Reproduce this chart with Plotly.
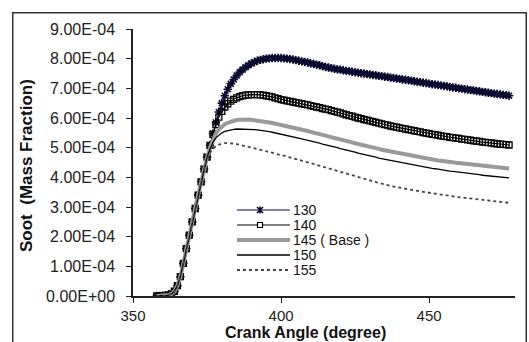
import plotly.graph_objects as go

# Crank angle (degree)
angle = [
    358, 359, 360, 361, 362, 363, 364, 365, 366, 367, 368, 369, 370, 371, 372, 373, 374, 375, 376, 377,
    378, 379, 380, 381, 382, 383, 384, 385, 386, 387, 388, 389, 390, 391, 392, 393, 394, 395, 396, 397,
    398, 399, 400, 401, 402, 403, 404, 405, 406, 407, 408, 409, 410, 411, 412, 413, 414, 415, 416, 417,
    418, 419, 420, 421, 422, 423, 424, 425, 426, 427, 428, 429, 430, 431, 432, 433, 434, 435, 436, 437,
    438, 439, 440, 441, 442, 443, 444, 445, 446, 447, 448, 449, 450, 451, 452, 453, 454, 455, 456, 457,
    458, 459, 460, 461, 462, 463, 464, 465, 466, 467, 468, 469, 470, 471, 472, 473, 474, 475, 476, 477,
]

# Soot mass fraction, in units of 1E-04
s130 = [
    0.00, 0.00, 0.01, 0.02, 0.03, 0.07, 0.16, 0.35, 0.65, 1.10, 1.60, 2.05, 2.50, 2.95, 3.40, 3.85, 4.28, 4.68,
    5.08, 5.48, 5.85, 6.20, 6.50, 6.75, 6.97, 7.15, 7.30, 7.43,
    7.54, 7.63, 7.71, 7.78, 7.84, 7.89, 7.93, 7.96, 7.98, 8.00,
    8.01, 8.02, 8.02, 8.02, 8.02, 8.01, 8.00, 7.99, 7.97, 7.95,
    7.93, 7.91, 7.89, 7.87, 7.84, 7.82, 7.80, 7.78, 7.75, 7.72,
    7.70, 7.68, 7.66, 7.64, 7.63, 7.61, 7.59, 7.58, 7.56, 7.54,
    7.53, 7.51, 7.50, 7.48, 7.47, 7.45, 7.44, 7.42, 7.41, 7.39,
    7.38, 7.36, 7.35, 7.33, 7.32, 7.30, 7.29, 7.27, 7.26, 7.24,
    7.22, 7.21, 7.19, 7.18, 7.16, 7.14, 7.13, 7.11, 7.10, 7.08,
    7.07, 7.05, 7.03, 7.02, 7.00, 6.99, 6.97, 6.96, 6.94, 6.93,
    6.91, 6.90, 6.88, 6.87, 6.85, 6.84, 6.82, 6.81, 6.80, 6.78,
    6.77, 6.75,
]
s140 = [
    0.00, 0.00, 0.01, 0.02, 0.03, 0.07, 0.16, 0.35, 0.65, 1.10, 1.60, 2.05, 2.50, 2.95, 3.40, 3.85, 4.28, 4.68,
    5.08, 5.45, 5.78, 6.03, 6.22, 6.37, 6.48, 6.57, 6.63, 6.68,
    6.72, 6.75, 6.77, 6.78, 6.79, 6.79, 6.79, 6.78, 6.77, 6.75,
    6.73, 6.71, 6.68, 6.65, 6.62, 6.60, 6.58, 6.56, 6.54, 6.52,
    6.50, 6.48, 6.46, 6.44, 6.42, 6.39, 6.37, 6.35, 6.32, 6.30,
    6.28, 6.25, 6.22, 6.20, 6.17, 6.14, 6.11, 6.08, 6.06, 6.03,
    6.00, 5.98, 5.95, 5.93, 5.90, 5.88, 5.85, 5.83, 5.80, 5.78,
    5.76, 5.73, 5.71, 5.69, 5.67, 5.65, 5.63, 5.61, 5.59, 5.57,
    5.55, 5.53, 5.51, 5.49, 5.47, 5.45, 5.44, 5.42, 5.40, 5.38,
    5.37, 5.35, 5.34, 5.32, 5.31, 5.29, 5.28, 5.26, 5.25, 5.23,
    5.22, 5.21, 5.19, 5.18, 5.17, 5.16, 5.14, 5.13, 5.12, 5.11,
    5.10, 5.09,
]
s145 = [
    0.00, 0.00, 0.01, 0.02, 0.03, 0.07, 0.16, 0.35, 0.65, 1.10, 1.60, 2.05, 2.50, 2.95, 3.40, 3.85, 4.28, 4.68,
    5.00, 5.28, 5.48, 5.62, 5.72, 5.79, 5.84, 5.88, 5.91, 5.93,
    5.94, 5.95, 5.95, 5.95, 5.94, 5.93, 5.92, 5.91, 5.89, 5.87,
    5.85, 5.83, 5.81, 5.79, 5.77, 5.75, 5.72, 5.70, 5.68, 5.66,
    5.63, 5.61, 5.58, 5.56, 5.53, 5.51, 5.48, 5.46, 5.43, 5.40,
    5.38, 5.35, 5.33, 5.30, 5.28, 5.25, 5.23, 5.20, 5.18, 5.15,
    5.13, 5.10, 5.08, 5.05, 5.03, 5.00, 4.98, 4.96, 4.93, 4.91,
    4.89, 4.86, 4.84, 4.82, 4.80, 4.78, 4.76, 4.74, 4.72, 4.70,
    4.68, 4.67, 4.65, 4.63, 4.62, 4.60, 4.59, 4.57, 4.56, 4.54,
    4.53, 4.52, 4.50, 4.49, 4.48, 4.47, 4.46, 4.44, 4.43, 4.42,
    4.41, 4.40, 4.39, 4.38, 4.37, 4.36, 4.35, 4.34, 4.33, 4.32,
    4.31, 4.30,
]
s150 = [
    0.00, 0.00, 0.01, 0.02, 0.03, 0.07, 0.16, 0.35, 0.65, 1.10, 1.60, 2.05, 2.50, 2.95, 3.40, 3.85, 4.28, 4.68,
    4.95, 5.18, 5.33, 5.43, 5.50, 5.55, 5.58, 5.60, 5.62, 5.63,
    5.63, 5.63, 5.63, 5.63, 5.62, 5.61, 5.60, 5.59, 5.57, 5.56,
    5.54, 5.52, 5.50, 5.48, 5.46, 5.44, 5.42, 5.39, 5.37, 5.35,
    5.32, 5.30, 5.27, 5.25, 5.22, 5.20, 5.17, 5.15, 5.12, 5.10,
    5.07, 5.05, 5.02, 5.00, 4.97, 4.95, 4.92, 4.90, 4.87, 4.85,
    4.82, 4.80, 4.77, 4.75, 4.72, 4.70, 4.68, 4.65, 4.63, 4.61,
    4.58, 4.56, 4.54, 4.52, 4.50, 4.48, 4.46, 4.44, 4.42, 4.40,
    4.38, 4.37, 4.35, 4.33, 4.32, 4.30, 4.29, 4.27, 4.26, 4.24,
    4.23, 4.21, 4.20, 4.19, 4.17, 4.16, 4.15, 4.13, 4.12, 4.11,
    4.10, 4.09, 4.07, 4.06, 4.05, 4.04, 4.03, 4.02, 4.01, 4.00,
    3.99, 3.98,
]
s155 = [
    0.00, 0.00, 0.01, 0.02, 0.03, 0.07, 0.16, 0.35, 0.65, 1.10, 1.60, 2.05, 2.50, 2.95, 3.40, 3.85, 4.28,
    4.60, 4.82, 4.96, 5.05, 5.10, 5.13, 5.15, 5.15, 5.15, 5.14,
    5.12, 5.10, 5.08, 5.05, 5.03, 5.00, 4.98, 4.95, 4.93, 4.90,
    4.88, 4.85, 4.83, 4.80, 4.78, 4.75, 4.72, 4.70, 4.67, 4.65,
    4.62, 4.59, 4.56, 4.54, 4.51, 4.48, 4.45, 4.42, 4.40, 4.37,
    4.34, 4.32, 4.29, 4.26, 4.23, 4.20, 4.17, 4.14, 4.11, 4.08,
    4.05, 4.02, 3.99, 3.96, 3.93, 3.90, 3.87, 3.84, 3.81, 3.79,
    3.76, 3.74, 3.71, 3.69, 3.67, 3.65, 3.63, 3.61, 3.59, 3.57,
    3.56, 3.54, 3.52, 3.51, 3.49, 3.48, 3.46, 3.45, 3.43, 3.42,
    3.40, 3.39, 3.37, 3.36, 3.35, 3.33, 3.32, 3.31, 3.29, 3.28,
    3.27, 3.25, 3.24, 3.23, 3.22, 3.21, 3.20, 3.19, 3.18, 3.17,
    3.16, 3.15, 3.14,
]

series_names = ["130", "140", "145 ( Base )", "150", "155"]
y_tick_vals = [0, 1, 2, 3, 4, 5, 6, 7, 8, 9]
y_tick_text = ["0.00E+00", "1.00E-04", "2.00E-04", "3.00E-04", "4.00E-04",
               "5.00E-04", "6.00E-04", "7.00E-04", "8.00E-04", "9.00E-04"]
x_tick_vals = [350, 400, 450]

W, H = 529, 342
ML, MR, MT, MB = 133, 14, 29, 46
PW, PH = W - ML - MR, H - MT - MB


def px(x):
    return (x - ML) / PW


def py(y):
    return (H - MB - y) / PH


FONT = "Liberation Sans, Arial, sans-serif"

styles = [
    dict(mode="lines+markers", line=dict(color="#000080", width=1.2),
         marker=dict(symbol="asterisk-open", size=7, color="#0a0a30",
                     line=dict(color="#0a0a30", width=1.6))),
    dict(mode="lines+markers", line=dict(color="#000000", width=1.2),
         marker=dict(symbol="square-open", size=6, color="#000000",
                     line=dict(color="#000000", width=1.3))),
    dict(mode="lines", line=dict(color="#9a9a9a", width=4)),
    dict(mode="lines", line=dict(color="#000000", width=1.3)),
    dict(mode="lines", line=dict(color="#444444", width=1.8, dash="dot")),
]

fig = go.Figure()
for name, ys, st in zip(series_names, [s130, s140, s145, s150, s155], styles):
    fig.add_trace(go.Scatter(x=angle, y=ys, name=name, showlegend=False, **st))

shapes = []
annotations = []

# outer chart frame, drawn as an empty bordered annotation box
annotations.append(dict(text=" ", xref="paper", yref="paper",
                        x=px(12), y=py(12), xanchor="left", yanchor="top",
                        width=512, height=345, borderpad=0, align="left",
                        bordercolor="#333333", borderwidth=1.5,
                        bgcolor="rgba(0,0,0,0)", showarrow=False,
                        font=dict(size=1)))

# manual legend
rows = [210, 225, 240, 255, 270]
leg_x0, leg_x1, mk_x = 237, 290, 260
leg_lines = [
    dict(color="#000080", width=1.2),
    dict(color="#000000", width=1.2),
    dict(color="#9a9a9a", width=4),
    dict(color="#000000", width=1.3),
    dict(color="#444444", width=1.8, dash="dot"),
]
for r, lab, ln in zip(rows, series_names, leg_lines):
    shapes.append(dict(type="line", xref="paper", yref="paper",
                       x0=px(leg_x0), x1=px(leg_x1), y0=py(r), y1=py(r), line=ln))
    annotations.append(dict(text=lab, xref="paper", yref="paper", x=px(leg_x1 + 1), y=py(r),
                            xanchor="left", yanchor="middle", showarrow=False,
                            font=dict(family=FONT, size=14, color="#111111")))
# legend marker for 130 (asterisk)
r = rows[0]
shapes.append(dict(type="path", xref="paper", yref="paper",
                   path=(f"M {px(mk_x-3)},{py(r-3)} L {px(mk_x+3)},{py(r+3)} "
                         f"M {px(mk_x-3)},{py(r+3)} L {px(mk_x+3)},{py(r-3)} "
                         f"M {px(mk_x)},{py(r-3.5)} L {px(mk_x)},{py(r+3.5)}"),
                   line=dict(color="#0a0a30", width=1.6)))
# legend marker for 140 (square)
r = rows[1]
shapes.append(dict(type="rect", xref="paper", yref="paper",
                   x0=px(mk_x - 2.5), x1=px(mk_x + 2.5), y0=py(r + 2.5), y1=py(r - 2.5),
                   line=dict(color="#000000", width=1.2), fillcolor="white"))

# axis titles
annotations.append(dict(text="<b>Crank Angle (degree)</b>", xref="paper", yref="paper",
                        x=px(305), y=py(341.5), xanchor="center", yanchor="bottom",
                        borderpad=0,
                        showarrow=False, font=dict(family=FONT, size=16, color="#111111")))
annotations.append(dict(text="<b>Soot  (Mass Fraction)</b>", xref="paper", yref="paper",
                        x=px(27), y=py(166), xanchor="center", yanchor="middle",
                        textangle=-90, showarrow=False,
                        font=dict(family=FONT, size=17, color="#111111")))

fig.update_layout(
    width=W, height=H,
    margin=dict(l=ML, r=MR, t=MT, b=MB, pad=0),
    paper_bgcolor="white", plot_bgcolor="white",
    shapes=shapes, annotations=annotations,
    xaxis=dict(range=[350, 479], tickmode="array", tickvals=x_tick_vals,
               showgrid=False, zeroline=False, showline=True, linecolor="#222222", linewidth=1.5,
               ticks="outside", ticklen=5, tickwidth=1.2, tickcolor="#222222",
               ticklabelstandoff=0,
               tickfont=dict(family=FONT, size=15, color="#222222")),
    yaxis=dict(range=[0, 9], tickmode="array", tickvals=y_tick_vals, ticktext=y_tick_text,
               showgrid=False, zeroline=False, showline=True, linecolor="#222222", linewidth=1.5,
               ticks="outside", ticklen=5, tickwidth=1.2, tickcolor="#222222",
               ticklabelstandoff=8,
               tickfont=dict(family=FONT, size=16, color="#222222")),
)

fig.write_html("out.html", config={"displayModeBar": False},
               post_script="document.body.style.margin='0';document.body.style.padding='0';")
